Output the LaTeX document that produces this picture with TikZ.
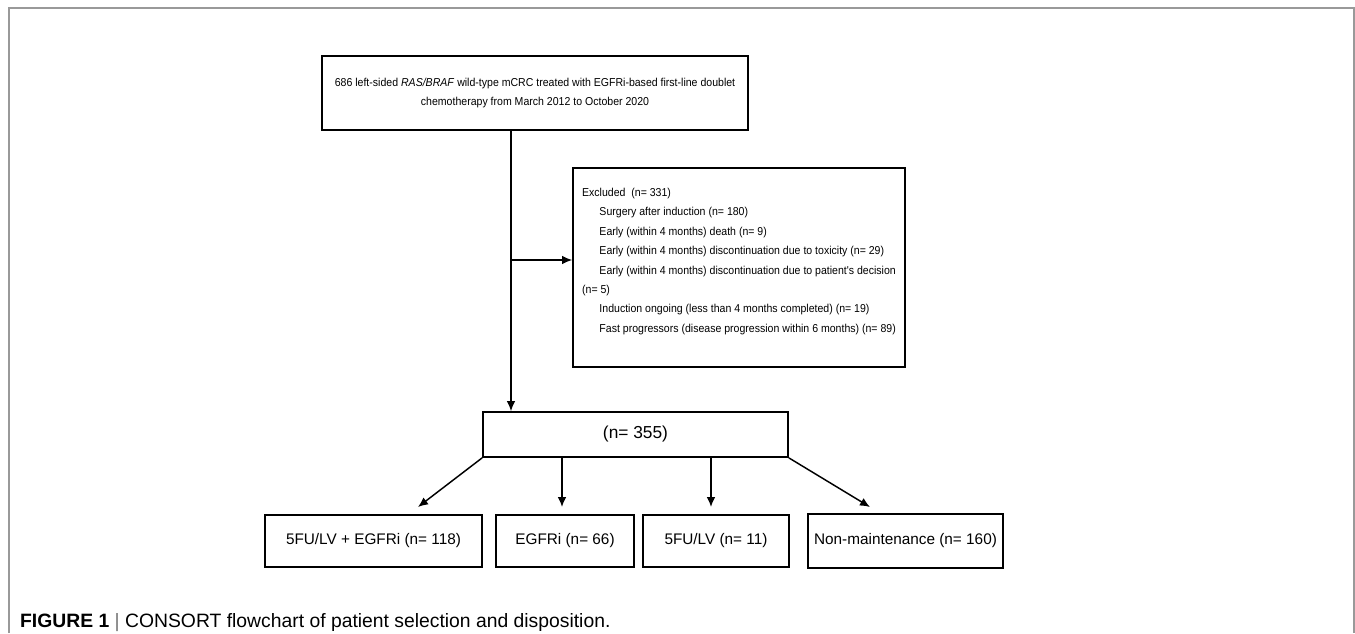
\documentclass[tikz,border=0pt]{standalone}
\usepackage{fontspec}
\setmainfont{Liberation Sans}
\newfontfamily\boxfont{Liberation Sans}[FakeStretch=0.92]
\usepackage{tikz}
\usetikzlibrary{shapes,arrows,arrows.meta,positioning,calc}
\tikzset{
block/.style = {draw, fill=white, rectangle, line width=1.3pt},
smalltext/.style = {font=\boxfont\fontsize{8.6}{14.6}\selectfont},
bigtext/.style = {font=\fontsize{11.5}{14}\selectfont},
tip/.style  = {coordinate},
frameline/.style = {draw=black!40, line width=0.8pt}
}

\begin{document}
\begin{tikzpicture}[x=0.75pt, y=-0.75pt, >={Latex[length=7.5pt,width=6.5pt]}, line width=1.1pt]
                \useasboundingbox (0,0) rectangle (1355,633);
                \draw [frameline] (9,633) -- (9,8) -- (1354,8) -- (1354,633);

                \node [block, smalltext, minimum width=319.5pt, minimum height=55.5pt, align=center] (cohort) at (535,93)
                    {686 left-sided \textit{RAS/BRAF} wild-type mCRC treated with EGFRi-based first-line doublet\\
                     chemotherapy from March 2012 to October 2020};
                \node [block, smalltext, minimum width=249pt, minimum height=149.25pt, text depth=11pt, align=left] (excluded) at (739,267.5)
                    {Excluded\ \ (n= 331)\\
                     \hspace*{13pt}Surgery after induction (n= 180)\\
                     \hspace*{13pt}Early (within 4 months) death (n= 9)\\
                     \hspace*{13pt}Early (within 4 months) discontinuation due to toxicity (n= 29)\\
                     \hspace*{13pt}Early (within 4 months) discontinuation due to patient's decision\\
                     (n= 5)\\
                     \hspace*{13pt}Induction ongoing (less than 4 months completed) (n= 19)\\
                     \hspace*{13pt}Fast progressors (disease progression within 6 months) (n= 89)};
                \node [block, font=\fontsize{13}{15}\selectfont, minimum width=228.75pt, minimum height=33.75pt] (total) at (635.5,434.5) {(n= 355)};
                \node [block, bigtext, minimum width=162.75pt, minimum height=39pt] (combo) at (373.5,541) {5FU/LV + EGFRi (n= 118)};
                \node [block, bigtext, minimum width=103.5pt, minimum height=39pt] (egfri) at (565,541) {EGFRi (n= 66)};
                \node [block, bigtext, minimum width=109.5pt, minimum height=39pt] (fluoro) at (716,541) {5FU/LV (n= 11)};
                \node [block, bigtext, minimum width=146.25pt, minimum height=41pt] (nonmaint) at (905.5,541) {Non-maintenance (n= 160)};

                \coordinate (split) at (511,260);
                \coordinate (tip1) at (418,507);
                \coordinate (tip2) at (562,507);
                \coordinate (tip3) at (711,507);
                \coordinate (tip4) at (870,507);

                \draw [-] (cohort.south -| split) -- (split);
                \draw [->] (split) -- (excluded.west |- split);
                \draw [->] (split) -- (total.north -| split);
                \draw [->] (total.south west) -- (tip1);
                \draw [->] (total.south -| tip2) -- (tip2);
                \draw [->] (total.south -| tip3) -- (tip3);
                \draw [->] (total.south east) -- (tip4);

                \node [anchor=base west, font=\fontsize{14.5}{16}\selectfont] (caption) at (15,627)
                    {\textbf{FIGURE 1} {\color{black!55}|} CONSORT flowchart of patient selection and disposition.};
\end{tikzpicture}
\end{document}
